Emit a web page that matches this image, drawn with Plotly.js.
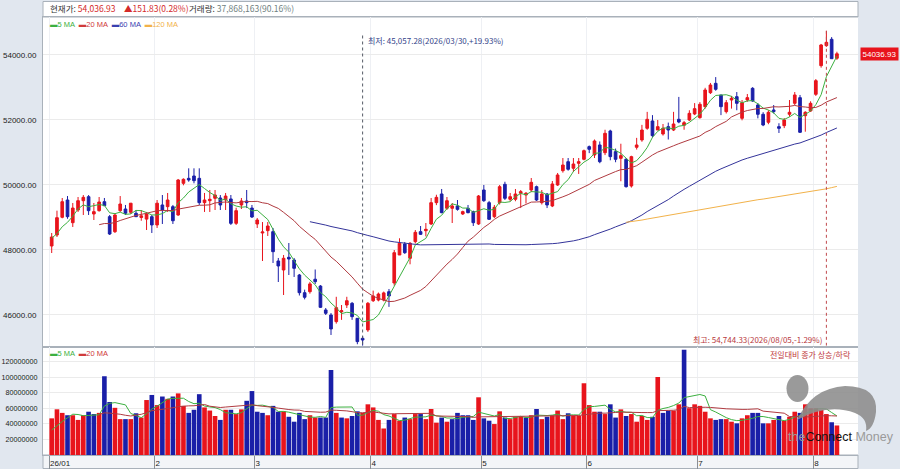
<!DOCTYPE html>
<html><head><meta charset="utf-8">
<script src="https://cdn.plot.ly/plotly-3.0.1.min.js"></script>
<style>html,body{margin:0;padding:0;background:#e1e7ef;overflow:hidden}#chart{width:900px;height:469px}</style>
</head><body><div id="chart"></div>
<script>
// ---- data ----
const priorCloses = [48650,48520,48380,48200,48050,48150,48300,48420,48350,48350];
const openP = [48123,48461,49006,49538,48840,49230,49517,49640,49108,49210,
49486,49025,48563,49210,49261,49160,49130,49000,48950,49025,
48770,49385,49333,49333,49077,50052,50205,50277,50205,49456,
49517,49590,49600,49540,49570,48820,49385,49508,49290,48800,
48523,48595,48564,47662,47385,47775,47692,47230,46686,46717,
47100,46890,46155,46000,45795,46100,46307,46359,45897,45282,
45540,46440,46460,46460,46717,46985,47846,48184,47744,48256,
48564,48594,48800,49456,49723,49283,49283,49354,49108,49282,
49180,48800,49846,49456,49025,49456,50021,49560,49560,49745,
49692,49846,49948,49456,49723,49354,50000,50440,50717,50515,
50667,50790,51180,50923,51231,50994,51662,51026,50820,50790,
49970,51160,51385,51745,51970,51692,51570,51795,51692,52021,
51837,52000,52185,52072,52410,52840,53128,52770,52256,52615,
52718,52052,52615,52975,52462,52175,51930,52308,51795,51826,
52175,52514,52687,52133,52277,52790,53672,54287,54483,53900];
const highP = [48523,49210,49600,49660,49446,49630,49690,49690,49446,49630,
49600,49077,49138,49660,49385,49446,49230,49230,49170,49077,
49538,49692,49754,49385,50185,50205,50513,50513,50513,49754,
49846,49846,49692,49754,49692,49300,49600,49846,49385,48985,
48860,48861,48677,47754,47846,48215,47754,47262,46780,47020,
47400,46920,46215,46060,46560,46307,46560,46400,45900,45350,
46400,46750,46690,46720,46800,48000,48360,48246,48246,48615,
48738,48830,49600,49700,49877,49630,49446,49538,49210,49385,
49210,49692,50000,49510,49385,50000,50100,49754,49877,49846,
49785,50215,49980,49846,49754,50123,50370,50830,50830,50830,
50830,51090,51215,51400,51340,51700,51700,51120,51270,50830,
50900,51450,51850,52250,52150,52000,51877,51920,52250,52710,
51970,52300,52520,52550,52990,53140,53320,52770,52615,52740,
52860,52615,52800,53010,52520,52240,52300,52460,51900,52060,
52615,52860,52770,52270,52575,53260,54340,54744.33,54550,54100];
const lowP = [47907,48400,48975,48960,48708,49170,49077,49077,48923,49180,
49385,48461,48523,49170,49077,49108,49025,48900,48615,48523,
48677,48800,49170,48800,49050,49990,50100,50052,49385,49170,
49170,49230,49230,49230,48770,48770,49261,49290,48985,48677,
47661,48431,47600,47015,46615,47230,47170,46600,46480,46656,
46950,46215,46000,45385,45734,45850,46215,45850,45100,45057.28,
45480,46400,46420,46420,46250,46900,47846,47880,47560,48200,
48461,48420,48770,49380,49130,49230,48830,49210,49077,49130,
48738,48770,49480,48923,48985,49400,49538,49500,49500,49290,
49430,49780,49510,49400,49290,49320,49970,50380,50440,50400,
50340,50760,50980,50830,50670,50920,50760,50700,50115,49920,
49920,51090,51330,51700,51460,51692,51520,51400,51660,51900,
51700,51970,52150,52040,52350,52800,52900,52150,52200,52350,
52300,51990,52560,52560,52050,51810,51870,52200,51600,51750,
52100,52460,51600,51640,52250,52740,53610,54250,53880,53850];
const closeP = [48400,48994,49486,49025,49290,49517,49620,49210,49180,49477,
49363,48492,49077,49415,49130,49440,49025,49050,49108,48770,
49440,49230,49538,48900,50154,50175,50154,50133,49456,49538,
49560,49692,49385,49660,48820,49210,49508,49456,49015,48923,
48554,48738,47948,47508,47745,47723,47436,46686,46545,46956,
47025,46236,46052,45570,46226,46130,46440,45948,45180,45230,
46360,46585,46645,46680,46584,47917,48206,47917,48206,48544,
48482,48636,49456,49620,49148,49517,49354,49250,49180,49148,
48840,49661,49517,48944,49313,49948,49590,49640,49723,49795,
49745,50082,49538,49723,49385,50031,50308,50615,50483,50646,
50717,51056,51098,51354,50717,51590,50872,50790,50903,49948,
50872,51231,51692,52021,51518,51795,51744,51692,51877,51938,
51918,52205,52349,52483,52923,53077,52944,52410,52533,52667,
52513,52533,52688,52585,52175,51846,52237,52256,51744,52000,
52237,52770,51621,52237,52513,53210,54308,54390,53885.10,54036.93];
const priorVolumes = [60e6,75e6,70e6,65e6,72e6,65e6,30e6,28e6,27e6,28e6];
const volumeM = [47,58.6,54,51,51,45,51,55.5,52.5,54,
101,68,60.5,46,46,46,53.5,48,70.5,77,
64,75,72,75,79,63,54,58,78,61,
57,50,45,58,58,52.5,58.5,69.5,82,55.5,
54,51,63,55.5,56,49,42.7,54,46,51,
48,48,48,109,54,48,47,50,56,54,
65,61,45,34,45,52.5,44,48,46,52.5,
52.5,46,59,41.5,48,42.7,46,54,51,51,
45,74,47,44,39.7,56,48,46,49,49,
48,51,59,46,49,51,57,46,53.5,50,
50,92,64,55.5,55.5,52.5,65,48,58.5,50,
52.5,42.7,50,45,49,100,54,57,57,65,
135,60,65,63,55.5,47,45,46,46,42.7,
40.6,47,51,54,54,40.6,40.6,45,50,44,
49,55.5,54,65,60,60,58,52.5,42,37.868163];
const monthStarts = [0,20,39,61,82,102,123,145];
const monthLabels = ["26/01","2","3","4","5","6","7","8"];
const priceTicks = [46000,48000,50000,52000,54000];
const volumeTicks = [20e6,40e6,60e6,80e6,100e6,120e6];
const lowDate = "2026/03/30", highDate = "2026/08/05";

// ---- derived ----
const volume = volumeM.map(v => Math.round(v*1e6));
const idx = closeP.map((_, i) => i);
function movingAvg(prior, vals, n){
  const all = prior.concat(vals), off = prior.length;
  return vals.map((_, i) => { const e = i+off; if (e+1 < n) return null;
    let s = 0; for (let k = e-n+1; k <= e; k++) s += all[k]; return s/n; });
}
const allPrevClose = [priorCloses[priorCloses.length-1]].concat(closeP.slice(0,-1));
const RED = '#e8141c', BLUE = '#1a1fa8';
const volColors = closeP.map((c, i) => c >= allPrevClose[i] ? RED : BLUE);
const fmt = (v, d) => v.toLocaleString('en-US', {minimumFractionDigits:d, maximumFractionDigits:d});
const N = closeP.length;
const last = closeP[N-1], prev = closeP[N-2];
const chg = last - prev, chgPct = chg/prev*100;
const volPct = volume[N-1]/volume[N-2]*100;
let minI = 0, maxI = 0;
lowP.forEach((v,i)=>{ if (v < lowP[minI]) minI = i; });
highP.forEach((v,i)=>{ if (v > highP[maxI]) maxI = i; });
const minV = lowP[minI], maxV = highP[maxI];

const G = '#3cb040', R2 = '#b03a40', B2 = '#34349a', O2 = '#f2b24a';
const traces = [
 {type:'candlestick', x:idx, open:openP, high:highP, low:lowP, close:closeP, xaxis:'x', yaxis:'y',
  increasing:{line:{color:RED,width:1}, fillcolor:RED}, decreasing:{line:{color:BLUE,width:1}, fillcolor:BLUE},
  whiskerwidth:0, hoverinfo:'skip', showlegend:false},
 {type:'scatter', mode:'lines', x:idx, y:movingAvg(priorCloses, closeP, 5), line:{color:G,width:1}, xaxis:'x', yaxis:'y', showlegend:false},
 {type:'scatter', mode:'lines', x:idx, y:movingAvg(priorCloses, closeP, 20), line:{color:R2,width:1}, xaxis:'x', yaxis:'y', showlegend:false},
 {type:'scatter', mode:'lines', x:idx, y:movingAvg(priorCloses, closeP, 60), line:{color:B2,width:1}, xaxis:'x', yaxis:'y', showlegend:false},
 {type:'scatter', mode:'lines', x:idx, y:movingAvg(priorCloses, closeP, 120), line:{color:O2,width:1}, xaxis:'x', yaxis:'y', showlegend:false},
 {type:'bar', x:idx, y:volume, marker:{color:volColors, line:{width:0}}, xaxis:'x2', yaxis:'y2', showlegend:false},
 {type:'scatter', mode:'lines', x:idx, y:movingAvg(priorVolumes, volume, 5), line:{color:G,width:1}, xaxis:'x2', yaxis:'y2', showlegend:false},
 {type:'scatter', mode:'lines', x:idx, y:movingAvg(priorVolumes, volume, 20), line:{color:R2,width:1}, xaxis:'x2', yaxis:'y2', showlegend:false}
];

const W = 815, H = 438, L0 = 43, B0 = 455;
const px = x => (x - L0)/W, py = y => (B0 - y)/H;
const volFrac = py(347);
const xr = [-1.65, 153.0];
const tickPos = monthStarts.map(m => m - 0.5);
const FONT = 'Liberation Sans, Noto Sans CJK KR, sans-serif';
const KFONT = 'Noto Sans CJK KR, Liberation Sans, sans-serif';
const BORDER = '#a9b1ba';
const yAx = (dom, rng, tv, tt, side, ov, anchor, fs, so) => Object.assign({
  domain: dom, range: rng, tickvals: tv, ticktext: tt, side: side, anchor: anchor,
  showgrid: !ov, gridcolor: '#ebebeb', gridwidth: 1, zeroline: false, fixedrange: true,
  tickfont: {family: FONT, size: fs, color: '#222'}, ticks: '', ticklabelstandoff: so,
  showline: true, linecolor: BORDER, linewidth: 1
}, ov ? {overlaying: ov} : {});

const priceTT = priceTicks.map(v => v.toFixed(2));
const volTT = volumeTicks.map(v => String(v));
const pRange = [45015, 55169];

const layout = {
  width: 900, height: 469, margin: {l: L0, r: 42, t: 17, b: 14, pad: 0},
  paper_bgcolor: '#e1e7ef', plot_bgcolor: '#ffffff', hovermode: false, dragmode: false,
  bargap: 0.12, boxgap: 0.28,
  font: {family: FONT, size: 8, color: '#222'},
  xaxis: {domain: [0,1], anchor: 'y', range: xr, tickvals: tickPos, showticklabels: false, ticks: '',
    showgrid: true, gridcolor: '#eef0f4', zeroline: false, rangeslider: {visible: false}, fixedrange: true,
    showline: true, linecolor: BORDER, mirror: true},
  xaxis2: {domain: [0,1], anchor: 'y2', range: xr, tickvals: tickPos, ticktext: monthLabels,
    ticks: 'outside', ticklen: 14, tickcolor: '#8a8f96', tickwidth: 1, ticklabelposition: 'outside right',
    tickfont: {family: FONT, size: 8, color: '#222'},
    showgrid: true, gridcolor: '#eef0f4', zeroline: false, fixedrange: true,
    showline: true, linecolor: BORDER, mirror: true},
  yaxis: yAx([volFrac, 1], pRange, priceTicks, priceTT, 'left', null, 'x', 8, 4),
  yaxis3: yAx([volFrac, 1], pRange, priceTicks, priceTT, 'right', 'y', 'x', 8, 4),
  yaxis2: yAx([0, volFrac], [0, 138.5e6], volumeTicks, volTT, 'left', null, 'x2', 7.2, 3),
  yaxis4: yAx([0, volFrac], [0, 138.5e6], volumeTicks, volTT, 'right', 'y2', 'x2', 7.2, 3),
  shapes: [
    {type:'rect', xref:'paper', yref:'paper', x0:0, x1:1, y0:1, y1:py(1.5), fillcolor:'#ffffff', line:{color:BORDER,width:1}, layer:'below'},
    {type:'rect', xref:'paper', yref:'paper', x0:0, x1:1, y0:py(468.5), y1:0, fillcolor:'#f3f5f8', line:{color:BORDER,width:1}, layer:'below'},
    {type:'line', xref:'x', yref:'y', x0:minI, x1:minI, y0:54600, y1:minV, line:{color:'#555a66', width:1, dash:'dot'}},
    {type:'line', xref:'x', yref:'y', x0:maxI, x1:maxI, y0:maxV, y1:45060, line:{color:'#c0484c', width:1, dash:'dot'}},
    // watermark logo
    {type:'circle', xref:'paper', yref:'paper', x0:px(786.5), x1:px(808.5), y0:py(402), y1:py(375),
     fillcolor:'rgba(140,140,140,0.88)', line:{width:0}, layer:'above'},
    {type:'path', xref:'paper', yref:'paper', layer:'above', fillcolor:'rgba(140,140,140,0.88)', line:{width:0},
     path: `M ${px(797)} ${py(420)} Q ${px(812)} ${py(388)} ${px(845)} ${py(386)} Q ${px(878)} ${py(386)} ${px(876)} ${py(412)} Q ${px(874)} ${py(428)} ${px(866)} ${py(431)} Q ${px(868)} ${py(418)} ${px(855)} ${py(413)} Q ${px(828)} ${py(403)} ${px(797)} ${py(420)} Z`}
  ],
  annotations: [
    {xref:'paper', yref:'paper', x:px(48), y:py(8.5), xanchor:'left', yanchor:'middle', showarrow:false,
     font:{family:KFONT, size:8.5, color:'#333'},
     text:`현재가: <span style="color:#d42a2a">${fmt(last,2)}</span>`},
    {xref:'paper', yref:'paper', x:px(122), y:py(8.5), xanchor:'left', yanchor:'middle', showarrow:false,
     font:{family:KFONT, size:8.5, color:'#d42a2a'},
     text:`▲${fmt(chg,2)}(${fmt(chgPct,2)}%)`},
    {xref:'paper', yref:'paper', x:px(187), y:py(8.5), xanchor:'left', yanchor:'middle', showarrow:false,
     font:{family:KFONT, size:8.5, color:'#333'},
     text:`거래량: <span style="color:#6f8080">${fmt(volume[N-1],0)}(${fmt(volPct,2)}%)</span>`},
    {xref:'paper', yref:'paper', x:px(48), y:py(24), xanchor:'left', yanchor:'middle', showarrow:false,
     font:{family:FONT, size:7.5},
     text:`<span style="color:${G}">▬5 MA</span>  <span style="color:#d03a3a">▬20 MA</span>  <span style="color:#3a40b0">▬60 MA</span>  <span style="color:${O2}">▬120 MA</span>`},
    {xref:'paper', yref:'paper', x:px(48), y:py(353), xanchor:'left', yanchor:'middle', showarrow:false,
     font:{family:FONT, size:7.5},
     text:`<span style="color:${G}">▬5 MA</span>  <span style="color:#d03a3a">▬20 MA</span>`},
    {xref:'x', yref:'y', x:minI, y:54461, xanchor:'left', yanchor:'middle', xshift:3, showarrow:false,
     font:{family:KFONT, size:8, color:'#34448a'},
     text:`최저: ${fmt(minV,2)}(${lowDate},+${fmt((last/minV-1)*100,2)}%)`},
    {xref:'x', yref:'y', x:maxI, y:45235, xanchor:'right', yanchor:'middle', xshift:-2, showarrow:false,
     font:{family:KFONT, size:8, color:'#b8383c'},
     text:`최고: ${fmt(maxV,2)}(${highDate},${fmt((last/maxV-1)*100,2)}%)`},
    {xref:'paper', yref:'paper', x:px(853), y:py(354), xanchor:'right', yanchor:'middle', showarrow:false,
     font:{family:KFONT, size:8, color:'#c0383c'}, text:'전일대비 종가 상승/하락'},
    {xref:'paper', yref:'y', x:1, y:last, xanchor:'left', yanchor:'middle', xshift:2, showarrow:false,
     bgcolor:RED, borderpad:1.5, font:{family:FONT, size:8, color:'#ffffff'}, text:last.toFixed(2)},
    {xref:'paper', yref:'paper', x:px(786), y:py(437), xanchor:'left', yanchor:'middle', showarrow:false,
     font:{family:FONT, size:12.5, color:'#9a9a9a'},
     text:'the<span style="color:#111">Connect</span> Money'}
  ]
};
Plotly.newPlot('chart', traces, layout, {staticPlot:true, displayModeBar:false});
</script></body></html>
